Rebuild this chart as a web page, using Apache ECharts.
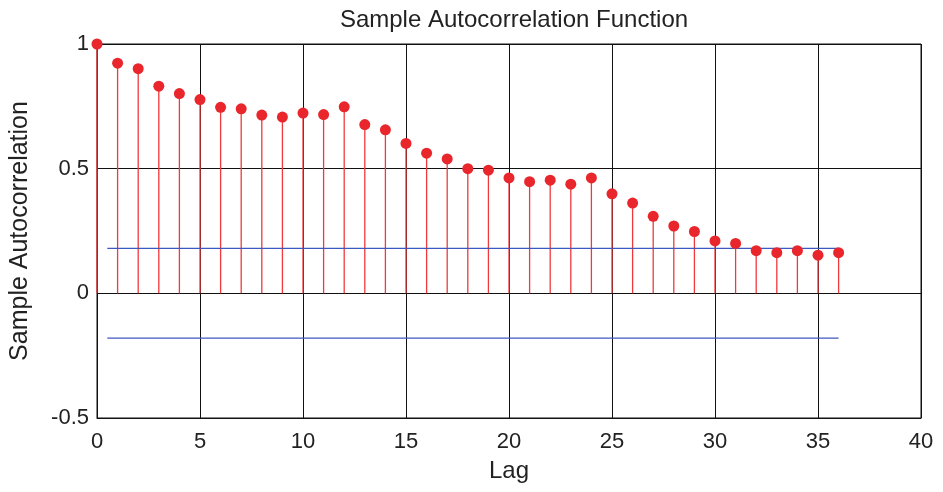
<!DOCTYPE html>
<html><head><meta charset="utf-8">
<script src="https://cdn.jsdelivr.net/npm/echarts@6/dist/echarts.min.js"></script>
<style>html,body{margin:0;padding:0;background:#fff}#c{width:943px;height:492px}</style>
</head><body><div id="c"></div>
<script>
const lags = [0,1,2,3,4,5,6,7,8,9,10,11,12,13,14,15,16,17,18,19,20,21,22,23,24,25,26,27,28,29,30,31,32,33,34,35,36];
const acf = [1.0,0.923,0.901,0.831,0.801,0.777,0.746,0.740,0.715,0.707,0.723,0.717,0.748,0.677,0.656,0.601,0.562,0.539,0.500,0.494,0.463,0.448,0.454,0.438,0.463,0.399,0.362,0.309,0.270,0.248,0.210,0.200,0.171,0.163,0.171,0.153,0.163];
const boundSpan = [0.5, 36];
const upperBound = 0.18;
const lowerBound = -0.18;
const xTicks = [0,5,10,15,20,25,30,35,40];
const yTicks = [-0.5,0,0.5,1];

const font = 'Liberation Sans, Arial, sans-serif';
const chart = echarts.init(document.getElementById('c'));
const points = lags.map((l,i)=>[l, acf[i]]);
chart.setOption({
  animation:false,
  title:{text:'Sample Autocorrelation Function', left:509, top:3, textAlign:'center',
    textStyle:{fontFamily:font, fontSize:24, fontWeight:'normal', color:'#222'}},
  grid:{left:97, right:22, top:44, bottom:74, show:true, borderColor:'#111', borderWidth:1},
  xAxis:{type:'value', min:xTicks[0], max:xTicks[xTicks.length-1], interval:5,
    name:'Lag', nameLocation:'middle', nameGap:41,
    nameTextStyle:{fontFamily:font, fontSize:24, color:'#222'},
    axisLine:{show:true, onZero:false, lineStyle:{color:'#111'}},
    axisTick:{show:true, inside:true, length:4, lineStyle:{color:'#111'}},
    axisLabel:{fontFamily:font, fontSize:22, color:'#222', margin:13},
    splitLine:{show:true, lineStyle:{color:'#111', width:1}}},
  yAxis:{type:'value', min:yTicks[0], max:yTicks[yTicks.length-1], interval:0.5,
    name:'Sample Autocorrelation', nameLocation:'middle', nameGap:64,
    nameTextStyle:{fontFamily:font, fontSize:25, color:'#222'},
    axisLine:{show:true, onZero:false, lineStyle:{color:'#111'}},
    axisTick:{show:true, inside:true, length:4, lineStyle:{color:'#111'}},
    axisLabel:{fontFamily:font, fontSize:22, color:'#222', margin:8,
      formatter:v=>String(v)},
    splitLine:{show:true, lineStyle:{color:'#111', width:1}}},
  series:[
    {type:'custom', data:points, z:3, silent:true,
     renderItem:(params, api)=>{
       const top = api.coord([api.value(0), api.value(1)]);
       const base = api.coord([api.value(0), 0]);
       return {type:'line', shape:{x1:top[0], y1:top[1], x2:base[0], y2:base[1]},
         style:{stroke:'#f0393d', lineWidth:1.3}};
     }},
    {type:'line', data:[[boundSpan[0],upperBound],[boundSpan[1],upperBound]], symbol:'none', z:4,
     lineStyle:{color:'#3f58c0', width:1.2}},
    {type:'line', data:[[boundSpan[0],lowerBound],[boundSpan[1],lowerBound]], symbol:'none', z:4,
     lineStyle:{color:'#3f58c0', width:1.2}},
    {type:'scatter', data:points, symbol:'circle', symbolSize:11, z:5,
     itemStyle:{color:'#e8262b', opacity:1}}
  ]
});
</script></body></html>
